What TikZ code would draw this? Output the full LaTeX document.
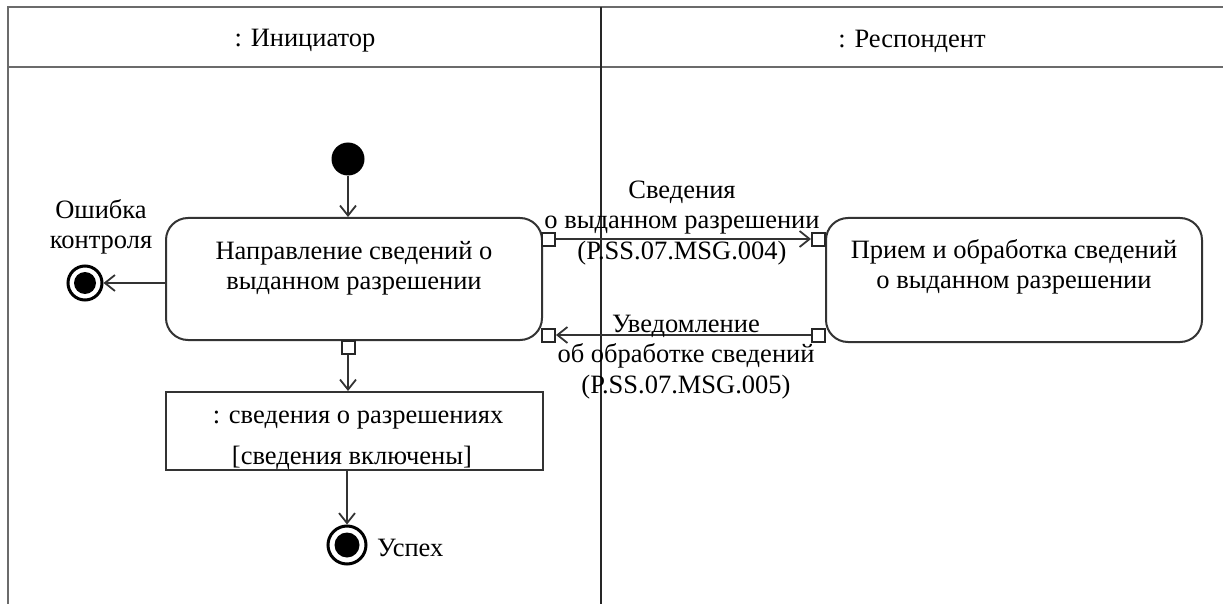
\documentclass[tikz,border=0pt]{standalone}
\usepackage{fontspec}
\setmainfont{Liberation Serif}
\usetikzlibrary{arrows.meta,calc}
\begin{document}
\begin{tikzpicture}[x=1pt,y=-1pt,
  font=\fontsize{26.5}{30.5}\selectfont,
  frame/.style={line width=2.6pt,draw=black!58},
  divider/.style={line width=2.4pt,draw=black!85},
  actbox/.style={draw=black!80,line width=2pt,rounded corners=22pt,inner sep=0pt},
  objbox/.style={draw=black!80,line width=2pt,inner sep=0pt},
  pinbox/.style={draw=black!85,line width=2pt,fill=white,minimum size=13pt,inner sep=0pt},
  txt/.style={align=center,inner sep=0pt},
  arr/.style={draw=black!80,line width=1.8pt,-{Straight Barb[length=10pt,width=16pt,line width=1.8pt]}},
  initnode/.style={circle,fill=black,minimum size=33pt,inner sep=0pt},
  finalnode/.style={circle,draw=black,line width=3pt,fill=white,inner sep=0pt,
     path picture={\fill[black] (path picture bounding box.center) circle (#1);}},
]
\useasboundingbox (0,0) rectangle (1223,604);
% frame
\draw[frame] (8,604) -- (8,7) -- (1223,7);
\draw[frame] (8,67) -- (1223,67);
\draw[divider] (601,7) -- (601,604);
\node[txt] (h1) at (305,41) {: Инициатор};
\node[txt] (h2) at (912,41) {: Респондент};
% nodes
\node[initnode] (init) at (348,159) {};
\node[actbox,minimum width=376pt,minimum height=122pt] (A) at (354,279) {};
\node[txt] (Atext) at (354,268) {Направление сведений о\\выданном разрешении};
\node[actbox,minimum width=376pt,minimum height=124pt] (B) at (1014,280) {};
\node[txt] (Btext) at (1014,267) {Прием и обработка сведений\\о выданном разрешении};
\node[objbox,minimum width=377pt,minimum height=78pt] (C) at (354,431) {};
\node[txt] (Ctext1) at (358,420) {: сведения о разрешениях};
\node[txt] (Ctext2) at (352,458) {[сведения включены]};
\node[finalnode=11pt,minimum size=34pt] (err) at (85,283) {};
\node[txt] (errlbl) at (101,227) {Ошибка\\контроля};
\node[finalnode=12.5pt,minimum size=38pt] (succ) at (347,545) {};
\node[txt,anchor=west] (succlbl) at (377,548) {Успех};
% pins
\node[pinbox] (pA1) at (548.5,239) {};
\node[pinbox] (pA2) at (548.5,335) {};
\node[pinbox] (pA3) at (348,347.5) {};
\node[pinbox] (pB1) at (818.5,239) {};
\node[pinbox] (pB2) at (818.5,335) {};
% connectors
\draw[arr] (init) -- (init |- A.north);
\draw[arr] (A.west |- err) -- (err);
\draw[arr] (pA1.east) -- (pB1.west);
\draw[arr] (pB2.west) -- (pA2.east);
\draw[arr] (pA3.south) -- (pA3 |- C.north);
\draw[arr] (succ |- C.south) -- (succ.north);
% message labels
\node[txt] (m1) at (682,223) {Сведения\\о выданном разрешении\\(P.SS.07.MSG.004)};
\node[txt] (m2) at (686,357) {Уведомление\\об обработке сведений\\(P.SS.07.MSG.005)};
\end{tikzpicture}
\end{document}
